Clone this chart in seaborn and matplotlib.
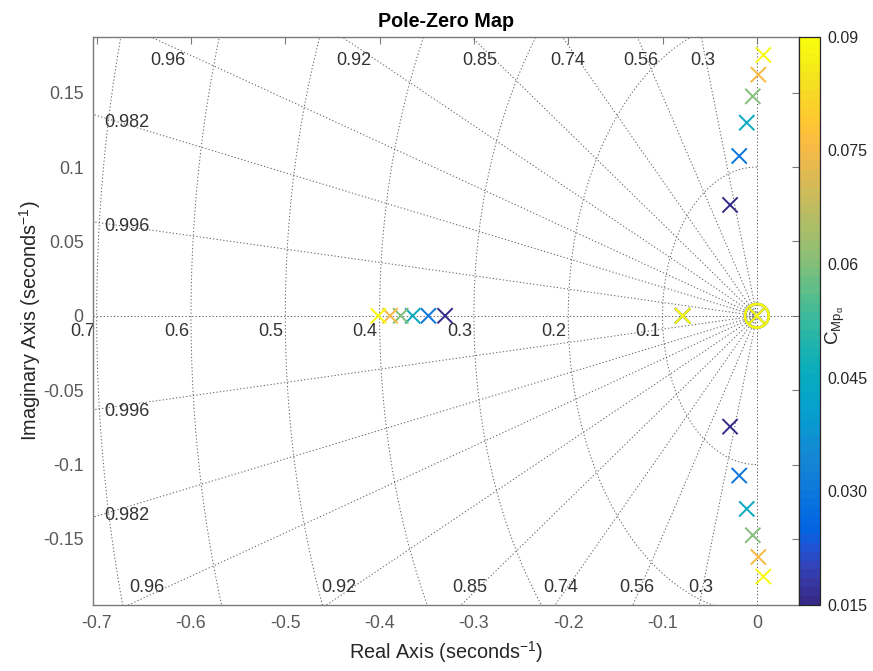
import numpy as np
import pandas as pd
import matplotlib
matplotlib.use("Agg")
import matplotlib.pyplot as plt
from matplotlib.colors import LinearSegmentedColormap, Normalize
from matplotlib.cm import ScalarMappable
import seaborn as sns

# ---------------- data ----------------
c_mpa = [0.015, 0.030, 0.045, 0.060, 0.075, 0.090]
cpx_re = [-0.0284, -0.0187, -0.0107, -0.0043, 0.0016, 0.0069]
cpx_im = [0.0745, 0.1074, 0.1298, 0.1475, 0.1621, 0.1753]
real_pole_a = [-0.3306, -0.3483, -0.3649, -0.3776, -0.3889, -0.4014]
real_pole_b = [-0.0786, -0.0786, -0.0786, -0.0786, -0.0786, -0.0786]
origin_pole = [0.0, 0.0, 0.0, 0.0, 0.0, 0.0]
zero_re = [0.0, 0.0, 0.0, 0.0, 0.0, 0.0]
zero_im = [0.0, 0.0, 0.0, 0.0, 0.0, 0.0]

zeta_lines = [0.3, 0.56, 0.74, 0.85, 0.92, 0.96, 0.982, 0.996]
wn_circles = [0.1, 0.2, 0.3, 0.4, 0.5, 0.6, 0.7]

x_ticks = [-0.7, -0.6, -0.5, -0.4, -0.3, -0.2, -0.1, 0.0]
x_ticklabels = ["-0.7", "-0.6", "-0.5", "-0.4", "-0.3", "-0.2", "-0.1", "0"]
y_ticks = [-0.15, -0.1, -0.05, 0.0, 0.05, 0.1, 0.15]
y_ticklabels = ["-0.15", "-0.1", "-0.05", "0", "0.05", "0.1", "0.15"]
cb_ticks = [0.015, 0.030, 0.045, 0.060, 0.075, 0.090]
cb_ticklabels = ["0.015", "0.030", "0.045", "0.06", "0.075", "0.09"]

# ---------------- style ----------------
sns.set_style("white")
plt.rcParams["font.family"] = ["Liberation Sans", "DejaVu Sans"]
plt.rcParams["axes.unicode_minus"] = False
plt.rcParams["mathtext.fontset"] = "custom"
plt.rcParams["mathtext.rm"] = "Liberation Sans"
plt.rcParams["mathtext.it"] = "Liberation Sans:italic"
plt.rcParams["mathtext.bf"] = "Liberation Sans:bold"

# MATLAB parula colormap (subsampled)
parula_pts = [
    (0.2081, 0.1663, 0.5292), (0.2123, 0.2138, 0.6270), (0.1959, 0.2645, 0.7279),
    (0.1253, 0.3242, 0.8303), (0.0117, 0.3875, 0.8820), (0.0165, 0.4266, 0.8786),
    (0.0498, 0.4586, 0.8641), (0.0723, 0.4887, 0.8467), (0.0793, 0.5200, 0.8312),
    (0.0641, 0.5570, 0.8240), (0.0343, 0.5966, 0.8199), (0.0239, 0.6287, 0.8038),
    (0.0228, 0.6535, 0.7768), (0.0384, 0.6743, 0.7436), (0.0843, 0.6928, 0.7062),
    (0.1453, 0.7098, 0.6646), (0.2178, 0.7250, 0.6193), (0.3022, 0.7376, 0.5712),
    (0.3953, 0.7459, 0.5244), (0.4871, 0.7491, 0.4840), (0.5709, 0.7485, 0.4494),
    (0.6473, 0.7456, 0.4188), (0.7184, 0.7411, 0.3905), (0.7858, 0.7356, 0.3633),
    (0.8507, 0.7299, 0.3360), (0.9139, 0.7258, 0.3063), (0.9739, 0.7314, 0.2666),
    (0.9990, 0.7653, 0.2164), (0.9880, 0.8066, 0.1794), (0.9697, 0.8481, 0.1475),
    (0.9589, 0.8949, 0.1132), (0.9661, 0.9514, 0.0755), (0.9763, 0.9831, 0.0538),
]
parula = LinearSegmentedColormap.from_list("parula", parula_pts, N=64)
norm = Normalize(vmin=min(cb_ticks), vmax=max(cb_ticks))

# ---------------- table of poles ----------------
rows = []
for i, c in enumerate(c_mpa):
    rows.append((cpx_re[i], cpx_im[i], c))
    rows.append((cpx_re[i], -cpx_im[i], c))
    rows.append((real_pole_a[i], 0.0, c))
    rows.append((real_pole_b[i], 0.0, c))
    rows.append((origin_pole[i], 0.0, c))
poles = pd.DataFrame(rows, columns=["re", "im", "cmp"])

# ---------------- figure ----------------
W, H = 873, 671
fig = plt.figure(figsize=(W / 100, H / 100), dpi=100)
ax = fig.add_axes([93.3 / W, 1 - 605 / H, (799 - 93.3) / W, (605 - 36.7) / H])
xlim = (-0.7036, 0.0447)
ylim = (-0.1944, 0.1876)
ax.set_xlim(*xlim)
ax.set_ylim(*ylim)

grid_kw = dict(color="#5f5f5f", lw=0.7, ls=(0, (1.3, 2.2)), zorder=1)
R = 2.0
for z in zeta_lines:
    s = np.sqrt(1 - z ** 2)
    ax.plot([0, -R * z], [0, R * s], **grid_kw)
    ax.plot([0, -R * z], [0, -R * s], **grid_kw)
ax.axhline(0, **grid_kw)
ax.axvline(0, **grid_kw)
th = np.linspace(np.pi / 2, 3 * np.pi / 2, 300)
for wn in wn_circles:
    ax.plot(wn * np.cos(th), wn * np.sin(th), **grid_kw)

lab_kw = dict(fontsize=13, color="#333333", zorder=2)
for z in zeta_lines:
    r = z / np.sqrt(1 - z ** 2)
    txt = f"{z:g}"
    if z < 0.97:
        xt = -(ylim[1] - 0.0056) * r
        ax.text(xt, ylim[1] - 0.019, txt, ha="center", va="baseline", **lab_kw)
        xb = -(abs(ylim[0]) - 0.0056) * r
        ax.text(xb, ylim[0] + 0.0087, txt, ha="center", va="baseline", **lab_kw)
    else:
        xr = xlim[0] + 0.0230
        yi = abs(xr) / r
        ax.text(xlim[0] + 0.0357, yi - 0.004, txt, ha="center", va="baseline", **lab_kw)
        ax.text(xlim[0] + 0.0357, -yi - 0.0063, txt, ha="center", va="baseline", **lab_kw)
for wn in wn_circles:
    ax.text(-wn - 0.002, -0.0135, f"{wn:g}", ha="right", va="baseline",
            clip_on=False, **lab_kw)

# zeros (circles) and poles (crosses)
ax.scatter(zero_re, zero_im, s=290, facecolors="none",
           edgecolors=[parula(norm(v)) for v in c_mpa], linewidths=1.7, zorder=4)
sns.scatterplot(data=poles, x="re", y="im", hue="cmp", palette=parula,
                hue_norm=norm, marker="x", s=120, linewidth=1.4,
                legend=False, ax=ax, zorder=5)

ax.set_xticks(x_ticks)
ax.set_xticklabels(x_ticklabels)
ax.set_yticks(y_ticks)
ax.set_yticklabels(y_ticklabels)
ax.tick_params(direction="in", length=5, width=0.8, color="#7a7a7a",
               labelsize=12.8, labelcolor="#5a5a5a", top=True, right=True, pad=7)
for sp in ax.spines.values():
    sp.set_color("#7a7a7a")
    sp.set_linewidth(1.0)

ax.set_xlabel(r"Real Axis (seconds$^{\mathregular{-1}}$)", fontsize=14.3,
              color="#262626", labelpad=5)
ax.set_ylabel(r"Imaginary Axis (seconds$^{\mathregular{-1}}$)", fontsize=14.3,
              color="#262626", labelpad=0)
ax.set_title("Pole-Zero Map", fontsize=14.2, fontweight="bold", color="black", pad=7)

# colorbar
cax = fig.add_axes([799 / W, 1 - 605 / H, 21 / W, (605 - 36.7) / H])
cb = fig.colorbar(ScalarMappable(norm=norm, cmap=parula), cax=cax)
cb.set_ticks(cb_ticks)
cb.set_ticklabels(cb_ticklabels)
cb.outline.set_linewidth(0.9)
cb.outline.set_edgecolor("#262626")
cax.tick_params(direction="in", length=4, width=0.8, color="#262626",
                labelsize=11.5, labelcolor="#262626", pad=5)
fig.text(835 / W, 1 - 325 / H, r"$\mathregular{C_{Mp_{\alpha}}}$", rotation=90,
         ha="center", va="center", fontsize=13.5, color="#262626")

fig.savefig("out.png", dpi=100)
